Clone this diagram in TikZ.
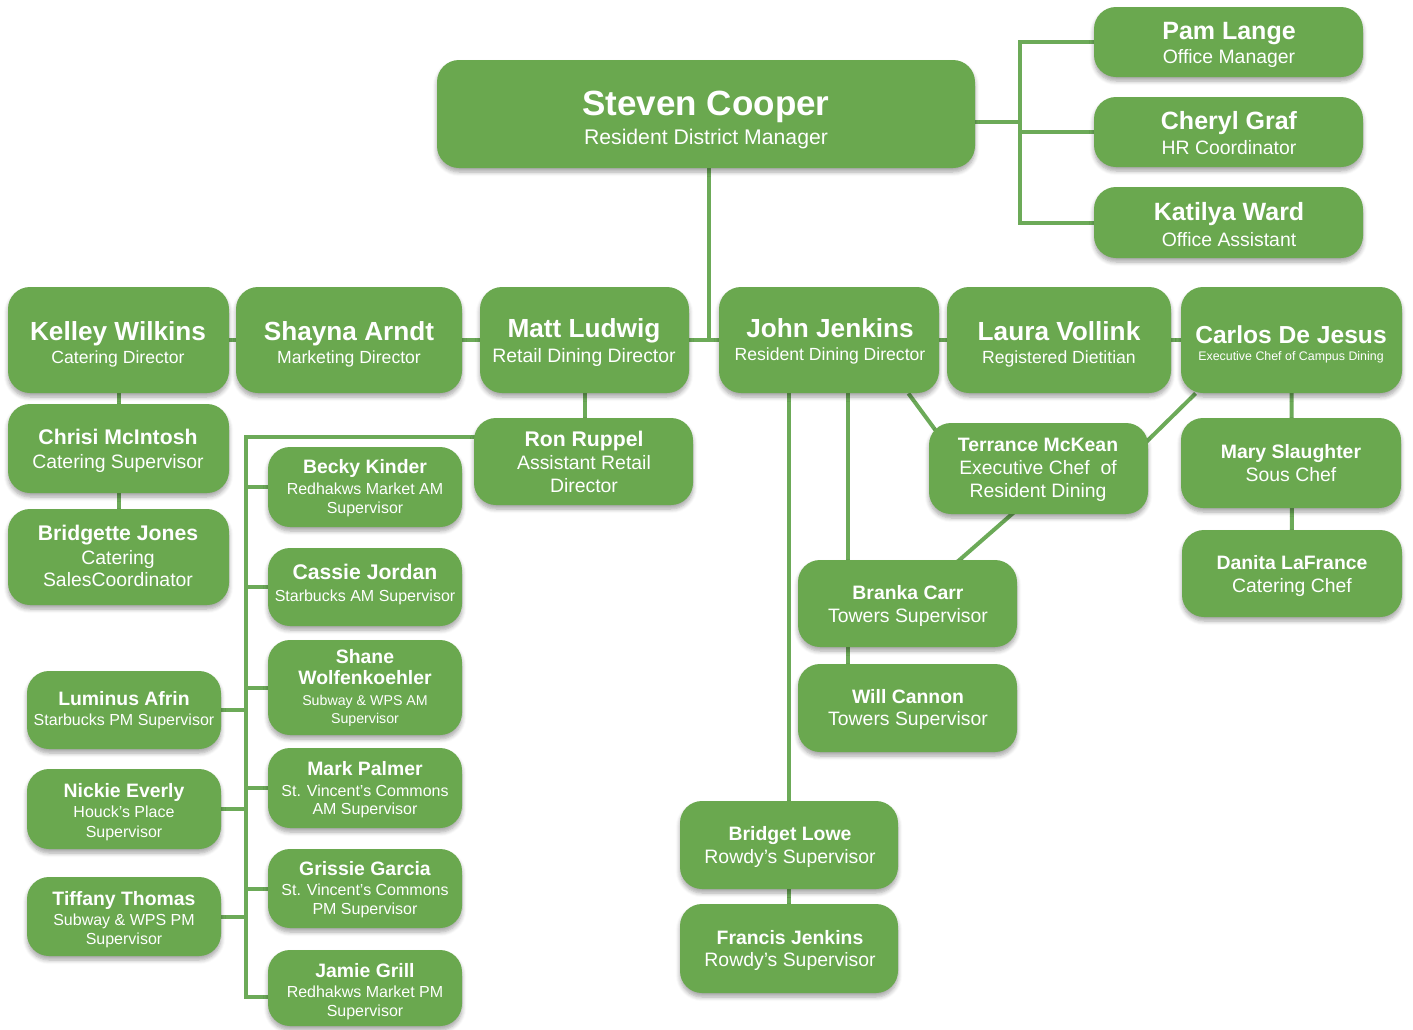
\documentclass[tikz,border=0pt]{standalone}
\usepackage{fontspec}
\setmainfont{Liberation Sans}
\usetikzlibrary{backgrounds,shadows.blur}
\definecolor{boxgreen}{RGB}{106,168,79}
\definecolor{linegreen}{RGB}{108,170,88}
\newcommand\bx[5]{\node[orgbox, minimum width={(#4-#2)*0.5pt}, minimum height={(#5-#3)*0.5pt}] (#1) at ({(#2+#4)/2},{(#3+#5)/2}) {};}
\newcommand\tl[5]{\node[txt,#4] (#1) at (#2,#3) {#5};}
\begin{document}
\begin{tikzpicture}[x=0.5pt,y=-0.5pt,
  orgbox/.style={draw=none, fill=boxgreen, rounded corners=11pt, inner sep=0pt,
    blur shadow={shadow xshift=0pt, shadow yshift=-2pt, shadow blur steps=6, shadow opacity=35}},
  conn/.style={draw=linegreen, line width=2pt},
  txt/.style={text=white, inner sep=0pt, anchor=base},
  T1/.style={font=\fontsize{17.5}{20}\selectfont\bfseries},
  S1/.style={font=\fontsize{10.6}{12}\selectfont},
  T2/.style={font=\fontsize{13.1}{15}\selectfont\bfseries},
  T2c/.style={font=\fontsize{12.3}{14}\selectfont\bfseries},
  T4/.style={font=\fontsize{12.5}{14}\selectfont\bfseries},
  T5/.style={font=\fontsize{10.6}{12}\selectfont\bfseries},
  T3/.style={font=\fontsize{9.7}{11}\selectfont\bfseries},
  S2/.style={font=\fontsize{8.8}{10}\selectfont},
  S3/.style={font=\fontsize{9.7}{11}\selectfont},
  S4/.style={font=\fontsize{8}{9}\selectfont},
  S5/.style={font=\fontsize{7.1}{8}\selectfont},
  S6/.style={font=\fontsize{6.2}{7}\selectfont}]
\useasboundingbox (0,0) rectangle (1413,1029);

% boxes
\bx{steven}{437}{60}{975}{168}
\bx{pam}{1094}{7}{1363}{77}
\bx{cheryl}{1094}{97}{1363}{167}
\bx{katilya}{1094}{187}{1363}{258}
\bx{kelley}{8}{287}{229}{393}
\bx{shayna}{236}{287}{462}{393}
\bx{matt}{480}{287}{689}{393}
\bx{john}{719}{287}{939}{393}
\bx{laura}{947}{287}{1171}{393}
\bx{carlos}{1181}{287}{1402}{393}
\bx{chrisi}{8}{404}{229}{493}
\bx{bridgette}{8}{509}{229}{605}
\bx{ron}{474}{418}{693}{505}
\bx{becky}{268}{447}{462}{527}
\bx{cassie}{268}{548}{462}{626}
\bx{shane}{268}{640}{462}{735}
\bx{mark}{268}{748}{462}{828}
\bx{grissie}{268}{849}{462}{928}
\bx{jamie}{268}{950}{462}{1026}
\bx{luminus}{27}{671}{221}{749}
\bx{nickie}{27}{769}{221}{849}
\bx{tiffany}{27}{877}{221}{956}
\bx{terrance}{929}{423}{1148}{514}
\bx{mary}{1181}{418}{1401}{508}
\bx{danita}{1182}{530}{1402}{617}
\bx{branka}{798}{560}{1017}{647}
\bx{will}{798}{664}{1017}{752}
\bx{bridget}{680}{801}{898}{889}
\bx{francis}{680}{904}{898}{993}

% texts
\tl{steven-a}{706}{115}{T1}{Steven Cooper}
\tl{steven-b}{706}{144}{S1}{Resident District Manager}
\tl{pam-a}{1229}{39}{T4}{Pam Lange}
\tl{pam-b}{1229}{63}{S3}{Office Manager}
\tl{cheryl-a}{1229}{129}{T4}{Cheryl Graf}
\tl{cheryl-b}{1229}{154}{S3}{HR Coordinator}
\tl{katilya-a}{1229}{220}{T4}{Katilya Ward}
\tl{katilya-b}{1229}{246}{S3}{Office Assistant}
\tl{kelley-a}{118}{340}{T2}{Kelley Wilkins}
\tl{kelley-b}{118}{363}{S2}{Catering Director}
\tl{shayna-a}{349}{340}{T2}{Shayna Arndt}
\tl{shayna-b}{349}{363}{S2}{Marketing Director}
\tl{matt-a}{584}{337}{T2}{Matt Ludwig}
\tl{matt-b}{584}{362}{S3}{Retail Dining Director}
\tl{john-a}{830}{337}{T2}{John Jenkins}
\tl{john-b}{830}{360}{S2}{Resident Dining Director}
\tl{laura-a}{1059}{340}{T2}{Laura Vollink}
\tl{laura-b}{1059}{363}{S2}{Registered Dietitian}
\tl{carlos-a}{1291}{343}{T2c}{Carlos De Jesus}
\tl{carlos-b}{1291}{360}{S6}{Executive Chef of Campus Dining}
\tl{chrisi-a}{118}{444}{T5}{Chrisi McIntosh}
\tl{chrisi-b}{118}{468}{S3}{Catering Supervisor}
\tl{bridgette-a}{118}{540}{T5}{Bridgette Jones}
\tl{bridgette-b}{118}{564}{S3}{Catering}
\tl{bridgette-c}{118}{586}{S3}{SalesCoordinator}
\tl{ron-a}{584}{446}{T5}{Ron Ruppel}
\tl{ron-b}{584}{469}{S3}{Assistant Retail}
\tl{ron-c}{584}{492}{S3}{Director}
\tl{becky-a}{365}{473}{T3}{Becky Kinder}
\tl{becky-b}{365}{494}{S4}{Redhakws Market AM}
\tl{becky-c}{365}{513}{S4}{Supervisor}
\tl{cassie-a}{365}{579}{T5}{Cassie Jordan}
\tl{cassie-b}{365}{601}{S4}{Starbucks AM Supervisor}
\tl{shane-a}{365}{663}{T3}{Shane}
\tl{shane-b}{365}{684}{T3}{Wolfenkoehler}
\tl{shane-c}{365}{705}{S5}{Subway \& WPS AM}
\tl{shane-d}{365}{723}{S5}{Supervisor}
\tl{mark-a}{365}{775}{T3}{Mark Palmer}
\tl{mark-b}{365}{796}{S4}{St. Vincent’s Commons}
\tl{mark-c}{365}{814}{S4}{AM Supervisor}
\tl{grissie-a}{365}{875}{T3}{Grissie Garcia}
\tl{grissie-b}{365}{895}{S4}{St. Vincent’s Commons}
\tl{grissie-c}{365}{914}{S4}{PM Supervisor}
\tl{jamie-a}{365}{977}{T3}{Jamie Grill}
\tl{jamie-b}{365}{997}{S4}{Redhakws Market PM}
\tl{jamie-c}{365}{1016}{S4}{Supervisor}
\tl{luminus-a}{124}{705}{T3}{Luminus Afrin}
\tl{luminus-b}{124}{725}{S4}{Starbucks PM Supervisor}
\tl{nickie-a}{124}{797}{T3}{Nickie Everly}
\tl{nickie-b}{124}{817}{S4}{Houck’s Place}
\tl{nickie-c}{124}{837}{S4}{Supervisor}
\tl{tiffany-a}{124}{905}{T3}{Tiffany Thomas}
\tl{tiffany-b}{124}{925}{S4}{Subway \& WPS PM}
\tl{tiffany-c}{124}{944}{S4}{Supervisor}
\tl{terrance-a}{1038}{451}{T3}{Terrance McKean}
\tl{terrance-b}{1038}{474}{S3}{Executive Chef\ \ of}
\tl{terrance-c}{1038}{497}{S3}{Resident Dining}
\tl{mary-a}{1291}{458}{T3}{Mary Slaughter}
\tl{mary-b}{1291}{481}{S3}{Sous Chef}
\tl{danita-a}{1292}{569}{T3}{Danita LaFrance}
\tl{danita-b}{1292}{592}{S3}{Catering Chef}
\tl{branka-a}{908}{599}{T3}{Branka Carr}
\tl{branka-b}{908}{622}{S3}{Towers Supervisor}
\tl{will-a}{908}{703}{T3}{Will Cannon}
\tl{will-b}{908}{725}{S3}{Towers Supervisor}
\tl{bridget-a}{790}{840}{T3}{Bridget Lowe}
\tl{bridget-b}{790}{863}{S3}{Rowdy’s Supervisor}
\tl{francis-a}{790}{944}{T3}{Francis Jenkins}
\tl{francis-b}{790}{966}{S3}{Rowdy’s Supervisor}

% connectors
\begin{pgfonlayer}{background}
\coordinate (sbus) at (1020,122);
\coordinate (rbus) at (246,437);
\draw[conn] (steven.east |- sbus) -- (sbus);
\draw[conn] (pam.west) -| (sbus) |- (katilya.west);
\draw[conn] (sbus |- cheryl.west) -- (cheryl.west);
\draw[conn] ([xshift=1.5pt]steven.south) -- ([xshift=1.5pt]steven.south |- john.center);
\draw[conn] (kelley.center) -- (carlos.center);
\draw[conn] (kelley.center) -- (bridgette.center);
\draw[conn] (matt.center) -- (matt.center |- ron.center);
\draw[conn] (ron.center |- rbus) -- (rbus) |- ([yshift=-4.25pt]jamie.center);
\draw[conn] (rbus |- becky.center) -- (becky.center);
\draw[conn] (rbus |- cassie.center) -- (cassie.center);
\draw[conn] (rbus |- shane.center) -- (shane.center);
\draw[conn] (rbus |- mark.center) -- (mark.center);
\draw[conn] (rbus |- grissie.center) -- (grissie.center);
\draw[conn] (rbus |- luminus.center) -- (luminus.center);
\draw[conn] (rbus |- nickie.center) -- (nickie.center);
\draw[conn] (rbus |- tiffany.center) -- (tiffany.center);
\draw[conn] (bridget.center |- john.center) -- (francis.center);
\draw[conn] ([xshift=-29.75pt]branka.north |- john.center) -- ([xshift=-29.75pt]will.center);
\draw[conn] ([xshift=-15.5pt]john.south east) -- ([xshift=8pt,yshift=-10pt]terrance.north west);
\draw[conn] ([xshift=7.5pt]carlos.south west) -- ([xshift=-6.5pt,yshift=-15pt]terrance.north east);
\draw[conn] ([xshift=-11.75pt,yshift=1.5pt]terrance.south) -- ([xshift=18.75pt,yshift=-6.5pt]branka.north);
\draw[conn] (carlos.center) -- (danita.center);
\end{pgfonlayer}
\end{tikzpicture}
\end{document}
